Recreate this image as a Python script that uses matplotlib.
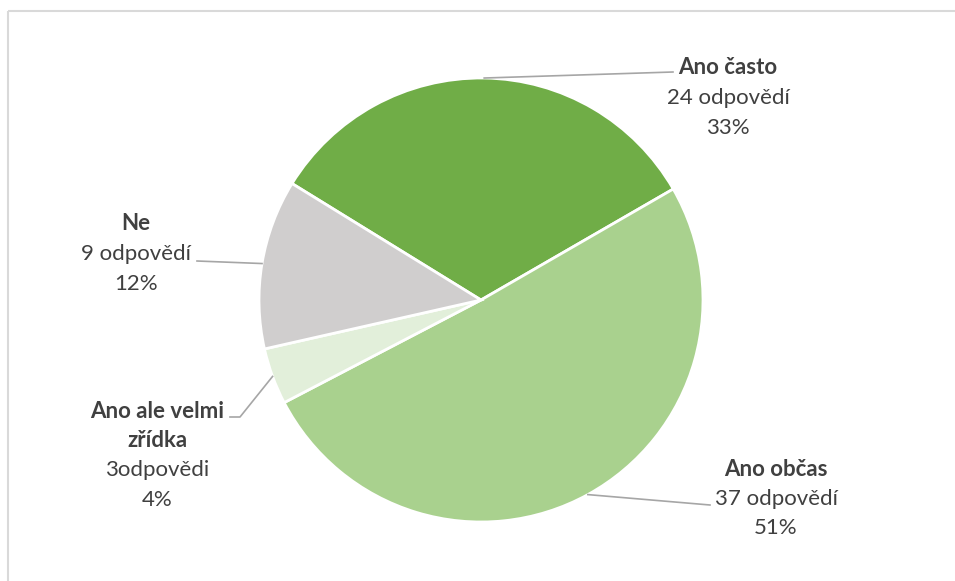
import matplotlib
matplotlib.use('Agg')
import matplotlib.pyplot as plt
import numpy as np

# ── Data ──────────────────────────────────────────────────────────────────────
categories = ["Ano často", "Ano občas", "Ano ale velmi\nzřídka", "Ne"]
answers    = [24, 37, 3, 9]
count_text = ["24 odpovědí", "37 odpovědí", "3odpovědi", "9 odpovědí"]
colors     = ['#70AD47', '#A9D18E', '#E2EFDA', '#D0CECE']

W, H   = 955, 581
CENTER = (481, H - 300)
RADIUS = 222
LINE   = 29.5          # label line spacing (px)
FS     = 16
TXT    = '#404040'
LEAD   = '#A6A6A6'

# label anchor (x, baseline of first line) and leader-line end points, px from top
label_pos  = [(728, 74.5), (776, 475.5), (157, 417.5), (136, 230.5)]
leader_end = [[(673, 72)], [(710, 505)], [(240, 417), (230, 417)], [(197, 261)]]

plt.rcParams['font.family'] = ['Lato', 'DejaVu Sans']

fig = plt.figure(figsize=(W / 100, H / 100), dpi=100)
ax  = fig.add_axes([0, 0, 1, 1])

total = sum(answers)
start = 30 + answers[0] / total * 360
wedges, _ = ax.pie(answers, colors=colors, startangle=start, counterclock=False,
                   center=CENTER, radius=RADIUS, frame=True,
                   wedgeprops=dict(edgecolor='white', linewidth=2))
ax.set_xlim(0, W)
ax.set_ylim(0, H)
ax.axis('off')

# chart-area outline (left and top edges)
ax.plot([7.5, 7.5], [0, H - 11], color='#D9D9D9', lw=1.5, solid_capstyle='butt')
ax.plot([7.5, W], [H - 11, H - 11], color='#D9D9D9', lw=1.5, solid_capstyle='butt')

for w, cat, cnt, n, (lx, ly), ends in zip(wedges, categories, count_text,
                                          answers, label_pos, leader_end):
    mid = np.deg2rad((w.theta1 + w.theta2) / 2)
    x0  = CENTER[0] + RADIUS * np.cos(mid)
    y0  = CENTER[1] + RADIUS * np.sin(mid)
    xs  = [x0] + [e[0] for e in ends]
    ys  = [y0] + [H - e[1] for e in ends]
    ax.plot(xs, ys, color=LEAD, lw=1.2)

    y = ly
    for ln in cat.split('\n'):
        ax.text(lx, H - y, ln, ha='center', va='baseline', fontsize=FS,
                fontweight='bold', color=TXT)
        y += LINE
    ax.text(lx, H - y, cnt, ha='center', va='baseline', fontsize=FS, color=TXT)
    y += LINE
    ax.text(lx, H - y, f"{round(n / total * 100)}%", ha='center', va='baseline',
            fontsize=FS, color=TXT)

fig.savefig('out.png', dpi=100)
